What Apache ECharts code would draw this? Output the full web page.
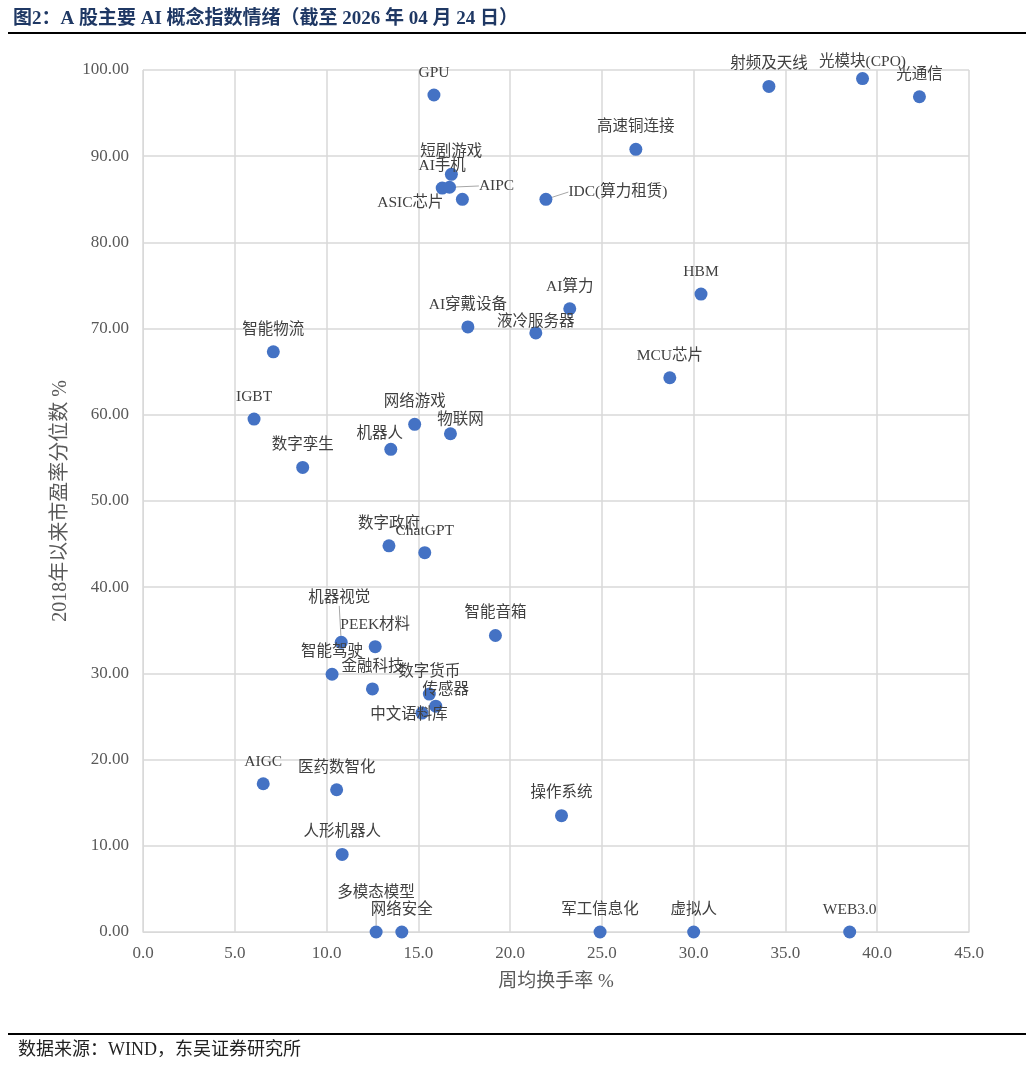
<!DOCTYPE html>
<html>
<head>
<meta charset="utf-8">
<title>A股主要AI概念指数情绪</title>
<script src="https://cdn.jsdelivr.net/npm/echarts@6/dist/echarts.min.js"></script>
<style>
    html, body { margin: 0; padding: 0; background: #fff; }
    #chartScatter { width: 1031px; height: 1067px; }
</style>
</head>
<body>
<div id="chartScatter"></div>
<script>
    // 指数名称
    var names = ['GPU', '射频及天线', '光模块(CPO)', '光通信', '高速铜连接', '短剧游戏', 'AI手机', 'AIPC', 'ASIC芯片',
        'IDC(算力租赁)', 'HBM', 'MCU芯片', 'AI算力', 'AI穿戴设备', '液冷服务器', '智能物流', 'IGBT', '网络游戏',
        '物联网', '机器人', '数字孪生', '数字政府', 'ChatGPT', '智能音箱', '机器视觉', 'PEEK材料', '智能驾驶',
        '金融科技', '数字货币', '传感器', '中文语料库', 'AIGC', '医药数智化', '操作系统', '人形机器人',
        '多模态模型', '网络安全', '军工信息化', '虚拟人', 'WEB3.0'];
    // 周均换手率 %
    var turnover = [15.85, 34.1, 39.2, 42.3, 26.85, 16.8, 16.3, 16.7, 17.4,
        21.95, 30.4, 28.7, 23.25, 17.7, 21.4, 7.1, 6.05, 14.8,
        16.75, 13.5, 8.7, 13.4, 15.35, 19.2, 10.8, 12.65, 10.3,
        12.5, 15.6, 15.95, 15.2, 6.55, 10.55, 22.8, 10.85,
        12.7, 14.1, 24.9, 30.0, 38.5];
    // 2018年以来市盈率分位数 %
    var peRank = [97.1, 98.1, 99.0, 96.9, 90.8, 87.9, 86.3, 86.4, 85.0,
        85.0, 74.0, 64.3, 72.3, 70.2, 69.5, 67.3, 59.5, 58.9,
        57.8, 56.0, 53.9, 44.8, 44.0, 34.4, 33.6, 33.1, 29.9,
        28.2, 27.6, 26.2, 25.4, 17.2, 16.5, 13.5, 9.0,
        0.0, 0.0, 0.0, 0.0, 0.0];

    // 标签位置微调 [dx, dy]，第三项为 true 的带引线
    var labelMove = {
        '光模块(CPO)': [0, 6],
        'AIPC': [47, 21, true],
        'ASIC芯片': [-52, 26],
        'IDC(算力租赁)': [72, 15, true],
        '液冷服务器': [0, 11],
        '物联网': [10, 8],
        '机器人': [-11, 7],
        '机器视觉': [-2, -22, true],
        '传感器': [10, 6],
        '中文语料库': [-13, 24],
        '多模态模型': [0, -17, true]
    };

    var pts = names.map(function (n, i) {
        var item = { name: n, value: [turnover[i], peRank[i]] };
        if (labelMove[n] && labelMove[n][2]) {
            item.labelLine = { show: true };
        }
        return item;
    });

    var chartScatter = echarts.init(document.getElementById('chartScatter'));
    var fontCN = '"Liberation Serif", "Noto Sans CJK SC", serif';
    chartScatter.setOption({
        animation: false,
        title: {
            text: '图2：A 股主要 AI 概念指数情绪（截至 2026 年 04 月 24 日）',
            left: 8,
            top: 5,
            textStyle: {
                fontFamily: fontCN,
                fontSize: 19,
                fontWeight: 'bold',
                color: '#1f3864'
            }
        },
        graphic: [
            { type: 'rect', shape: { x: 8, y: 32, width: 1018, height: 2 }, style: { fill: '#000' } },
            { type: 'rect', shape: { x: 8, y: 1033, width: 1018, height: 2 }, style: { fill: '#000' } },
            {
                type: 'text', left: 18, top: 1041,
                style: { text: '数据来源：WIND，东吴证券研究所', font: '18px ' + fontCN, fill: '#222' }
            }
        ],
        grid: {
            left: 143,
            right: 62,
            top: 70,
            bottom: 135
        },
        xAxis: {
            type: 'value',
            min: 0,
            max: 45,
            interval: 5,
            name: '周均换手率 %',
            nameLocation: 'middle',
            nameGap: 41,
            nameTextStyle: { fontFamily: fontCN, fontSize: 19, color: '#595959' },
            axisLine: { show: true, lineStyle: { color: '#d9d9d9' } },
            axisTick: { show: false },
            axisLabel: {
                fontFamily: fontCN, fontSize: 17, color: '#595959', margin: 13,
                formatter: function (v) { return v.toFixed(1); }
            },
            splitLine: { show: true, lineStyle: { color: '#d9d9d9', width: 1.5 } }
        },
        yAxis: {
            type: 'value',
            min: 0,
            max: 100,
            interval: 10,
            name: '2018年以来市盈率分位数 %',
            nameLocation: 'middle',
            nameGap: 72,
            nameTextStyle: { fontFamily: fontCN, fontSize: 20, color: '#595959' },
            axisLine: { show: true, lineStyle: { color: '#d9d9d9' } },
            axisTick: { show: false },
            axisLabel: {
                fontFamily: fontCN, fontSize: 17, color: '#595959', margin: 14,
                formatter: function (v) { return v.toFixed(2); }
            },
            splitLine: { show: true, lineStyle: { color: '#d9d9d9', width: 1.5 } }
        },
        series: [
            {
                type: 'scatter',
                symbolSize: 13,
                itemStyle: { color: '#4472c4', opacity: 1 },
                data: pts,
                label: {
                    show: true,
                    position: 'top',
                    distance: 8,
                    formatter: '{b}',
                    fontFamily: fontCN,
                    fontSize: 15.5,
                    color: '#404040'
                },
                labelLine: {
                    show: false,
                    lineStyle: { color: '#a6a6a6', width: 1 }
                },
                labelLayout: function (params) {
                    var m = labelMove[names[params.dataIndex]];
                    return m ? { dx: m[0], dy: m[1] } : {};
                }
            }
        ]
    });
</script>
</body>
</html>
